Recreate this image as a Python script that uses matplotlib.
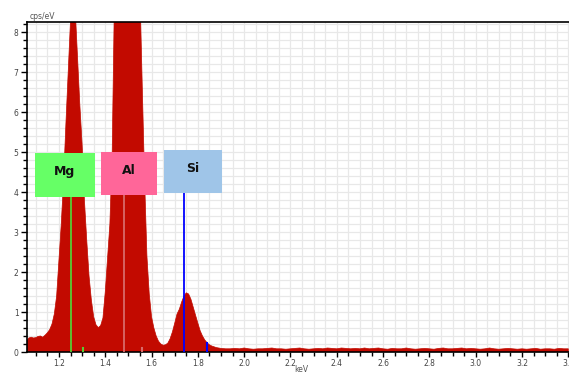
import numpy as np
import matplotlib
matplotlib.use("Agg")
import matplotlib.pyplot as plt
from matplotlib.ticker import MultipleLocator
from matplotlib.patches import Rectangle

# ---- data ----
peak_start, peak_step = 1.06, 0.01
peak_counts = [0.28, 0.35, 0.37, 0.35, 0.36, 0.39, 0.40, 0.37, 0.42, 0.48,
               0.56, 0.70, 0.95, 1.40, 2.30, 3.20, 4.30, 5.70, 7.00, 8.30,
               8.80, 8.60, 7.40, 6.20, 5.20, 3.80, 2.80, 1.90, 1.30, 0.88,
               0.68, 0.61, 0.66, 0.85, 1.50, 2.35, 3.20, 5.00, 9.00, 12.0,
               14.0, 15.5, 16.5, 17.0, 17.0, 16.5, 15.5, 13.5, 11.5, 9.00,
               6.60, 4.30, 2.40, 1.45, 0.88, 0.60, 0.40, 0.27, 0.20, 0.17,
               0.18, 0.22, 0.33, 0.50, 0.72, 0.95, 1.07, 1.25, 1.40, 1.48,
               1.45, 1.32, 1.12, 0.92, 0.72, 0.53, 0.40, 0.30, 0.23, 0.18,
               0.15, 0.13, 0.11, 0.10, 0.09]
tail_start, tail_step = 1.92, 0.02
tail_counts = [0.08, 0.08, 0.09, 0.08, 0.10, 0.08, 0.07, 0.08, 0.08, 0.09,
               0.10, 0.08, 0.08, 0.07, 0.08, 0.09, 0.10, 0.08, 0.07, 0.08,
               0.09, 0.08, 0.10, 0.09, 0.08, 0.10, 0.09, 0.08, 0.09, 0.08,
               0.10, 0.08, 0.09, 0.10, 0.08, 0.07, 0.09, 0.08, 0.08, 0.10,
               0.08, 0.07, 0.08, 0.09, 0.08, 0.07, 0.09, 0.10, 0.08, 0.08,
               0.09, 0.10, 0.08, 0.09, 0.08, 0.07, 0.08, 0.10, 0.08, 0.07,
               0.08, 0.09, 0.08, 0.07, 0.08, 0.07, 0.08, 0.09, 0.07, 0.08,
               0.08, 0.07, 0.09, 0.08, 0.08]

elements = ["Mg", "Al", "Si"]
line_energy = [1.252, 1.483, 1.740]
line_top = [3.88, 3.93, 4.00]
line_colors = ["#55cc33", "#d86a6a", "#0000ff"]
minor_energy = [1.302, 1.557, 1.838]
minor_height = [0.10, 0.10, 0.22]
box_x = [(1.096, 1.355), (1.381, 1.623), (1.654, 1.904)]
box_y = [(3.88, 4.98), (3.93, 5.00), (3.98, 5.05)]
box_colors = ["#66ff66", "#ff6699", "#9fc5e8"]

x_ticks = [1.2, 1.4, 1.6, 1.8, 2.0, 2.2, 2.4, 2.6, 2.8, 3.0, 3.2, 3.4]
y_ticks = [0, 1, 2, 3, 4, 5, 6, 7, 8]

energy = np.concatenate([peak_start + peak_step * np.arange(len(peak_counts)),
                         tail_start + tail_step * np.arange(len(tail_counts))])
counts = np.array(peak_counts + tail_counts)

W, H = 569, 372
fig = plt.figure(figsize=(W / 100, H / 100), dpi=100)
ax = fig.add_axes([27 / W, (H - 352) / H, (569 - 27) / W, (352 - 22) / H])

ax.fill_between(energy, counts, 0, color="#c20a00", lw=0.5, edgecolor="#c20a00", zorder=2)

for e, t, c in zip(line_energy, line_top, line_colors):
    ax.plot([e, e], [0, t], color=c, lw=1.3, zorder=3)
for e, h, c in zip(minor_energy, minor_height, line_colors):
    ax.plot([e, e], [0, h], color=c, lw=1.5, zorder=3)

for name, (x0, x1), (y0, y1), c in zip(elements, box_x, box_y, box_colors):
    ax.add_patch(Rectangle((x0, y0), x1 - x0, y1 - y0, facecolor=c, edgecolor="none", zorder=4))
    ax.text((x0 + x1) / 2, (y0 + y1) / 2 + 0.08, name, ha="center", va="center",
            fontsize=9, fontweight="bold", color="#111111", zorder=5)

ax.set_xlim(1.062, 3.403)
ax.set_ylim(0, 8.25)
ax.set_xticks(x_ticks)
ax.set_xticklabels([f"{v:.1f}" for v in x_ticks])
ax.set_yticks(y_ticks)
ax.xaxis.set_minor_locator(MultipleLocator(0.05))
ax.yaxis.set_minor_locator(MultipleLocator(0.2))
ax.grid(which="both", color="#e8e8e8", lw=0.9, zorder=0)
ax.set_axisbelow(True)

ax.tick_params(axis="x", which="major", length=3.5, width=1, color="black",
               labelsize=5.5, labelcolor="#444444", pad=1.5)
ax.tick_params(axis="x", which="minor", length=3, width=1, color="black")
ax.tick_params(axis="y", which="major", length=4.5, width=1, color="black",
               labelsize=5.5, labelcolor="#444444", pad=1.5)
ax.tick_params(axis="y", which="minor", length=3, width=1, color="black")
for s in ["left", "bottom", "top"]:
    ax.spines[s].set_color("black")
    ax.spines[s].set_linewidth(1.2)
ax.spines["right"].set_visible(False)

fig.text(30 / W, 1 - 16.5 / H, "cps/eV", fontsize=5.5, color="#555555", ha="left", va="center")
fig.text(301 / W, 1 - 370 / H, "keV", fontsize=5.5, color="#555555", ha="center", va="center")

fig.savefig("out.png", dpi=100)
